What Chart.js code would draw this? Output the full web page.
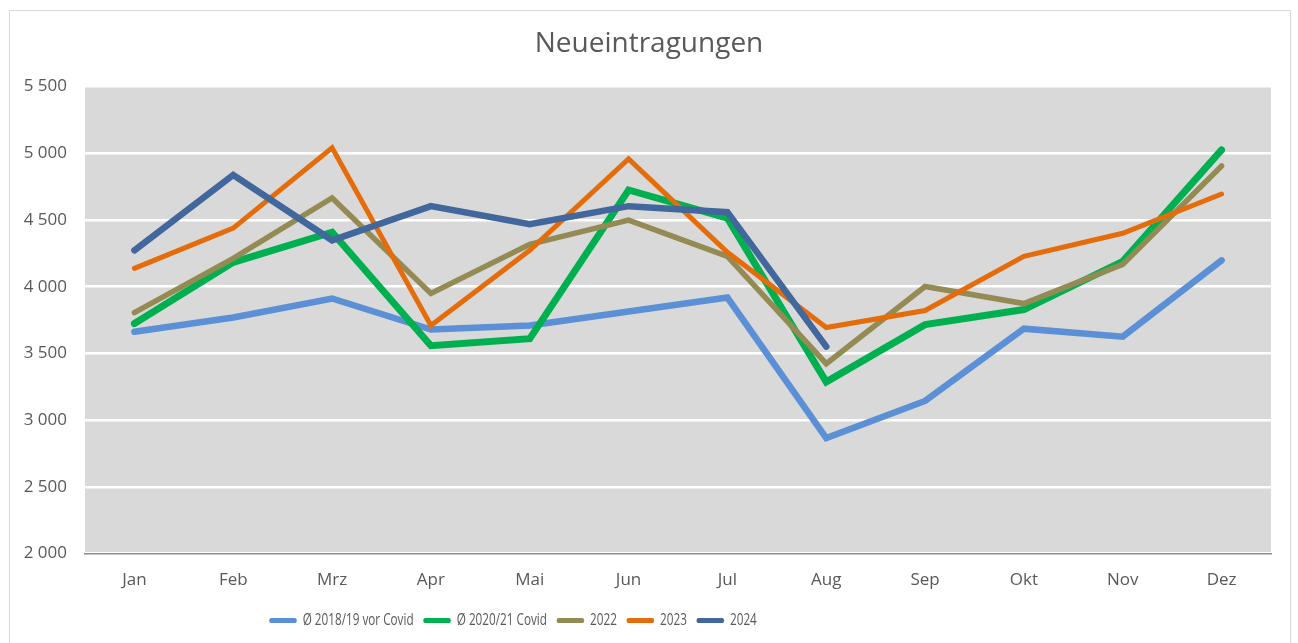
<!DOCTYPE html>
<html>
<head>
<meta charset="utf-8">
<script src="https://cdn.jsdelivr.net/npm/chart.js@4.4.1/dist/chart.umd.min.js"></script>
<style>
html,body{margin:0;padding:0;background:#fff;}
#frame{position:absolute;left:9px;top:10px;width:1282px;height:640px;border:1px solid #d9d9d9;box-sizing:border-box;}
#wrap{position:absolute;left:0;top:0;width:1298px;height:643px;}
</style>
</head>
<body>
<div id="frame"></div>
<div id="wrap"><canvas id="c" width="1298" height="643"></canvas></div>
<script>
const categories = ['Jan','Feb','Mrz','Apr','Mai','Jun','Jul','Aug','Sep','Okt','Nov','Dez'];
const seriesNames = ['Ø 2018/19 vor Covid','Ø 2020/21 Covid','2022','2023','2024'];
const avg1819 = [3663,3769,3912,3679,3709,3814,3919,2866,3144,3686,3626,4198];
const avg2021 = [3724,4183,4409,3558,3611,4725,4514,3287,3716,3829,4190,5026];
const y2022 = [3806,4213,4665,3950,4318,4499,4228,3423,4002,3874,4168,4905];
const y2023 = [4138,4439,5041,3709,4273,4958,4258,3694,3822,4228,4401,4695];
const y2024 = [4273,4838,4348,4604,4469,4604,4559,3551,null,null,null,null];
const yTicks = [2000,2500,3000,3500,4000,4500,5000,5500];
const colors = ['#5B8FD6','#00B050','#948A54','#E46C0A','#41679C'];
const lineWidths = [6.5,7,5.5,5,6.5];
const allSeries = [avg1819,avg2021,y2022,y2023,y2024];

const LEG_SCALE = 0.69;
const LEG_CENTER = 513;
const LEG_SHIFT_Y = -8;

const bgPlugin = {
  id:'plotBg',
  beforeDraw(chart){
    const {ctx, chartArea:a} = chart;
    ctx.save();
    ctx.fillStyle = '#D9D9D9';
    ctx.fillRect(a.left, a.top, a.right-a.left, a.bottom-a.top);
    ctx.restore();
  },
  afterLayout(chart){
    const lg = chart.legend;
    if (lg && !lg._wrapped) {
      const orig = lg.draw.bind(lg);
      lg.draw = function(){
        const ctx = chart.ctx;
        const mid = (lg.left + lg.right) / 2;
        ctx.save();
        ctx.translate(LEG_CENTER, LEG_SHIFT_Y);
        ctx.scale(LEG_SCALE, 1);
        ctx.translate(-mid, 0);
        orig();
        ctx.restore();
      };
      lg._wrapped = true;
    }
  }
};

const fmt = v => String(v).replace(/\B(?=(\d{3})+(?!\d))/g, ' ');

new Chart(document.getElementById('c'), {
  type:'line',
  data:{
    labels:categories,
    datasets: allSeries.map((d,i)=>({
      label:seriesNames[i],
      data:d,
      borderColor:colors[i],
      backgroundColor:colors[i],
      borderWidth:lineWidths[i],
      pointRadius:0,
      tension:0,
      borderCapStyle:'round',
      borderJoinStyle:'miter',
      spanGaps:false,
      order:5-i
    }))
  },
  plugins:[bgPlugin],
  options:{
    responsive:false,
    animation:false,
    layout:{padding:{left:0,right:0,top:0,bottom:7}},
    plugins:{
      title:{display:true,text:'Neueintragungen',color:'#595959',
        font:{family:'Open Sans',size:28,weight:'normal'},padding:{top:27,bottom:26}},
      legend:{position:'bottom',
        maxHeight:30,
        labels:{
          color:'#595959',
          font:{family:'Open Sans',size:17},
          boxWidth:40, boxHeight:5, padding:14,
          sort:(a,b)=>a.datasetIndex-b.datasetIndex,
          generateLabels(chart){
            return chart.data.datasets.map((ds,i)=>({
              text:ds.label, fillStyle:ds.borderColor, strokeStyle:ds.borderColor,
              lineWidth:0, borderRadius:2.5, datasetIndex:i, hidden:false, fontColor:'#595959'
            }));
          }
        }},
      tooltip:{enabled:false}
    },
    scales:{
      x:{
        offset:true,
        grid:{display:false, drawTicks:false, offset:true},
        border:{display:true,color:'#8C8C8C',width:1.5},
        ticks:{color:'#595959',font:{family:'Open Sans',size:17},padding:16}
      },
      y:{
        min:2000,max:5500,
        afterFit(s){ s.width = 85; },
        afterBuildTicks(s){ s.ticks = yTicks.map(v=>({value:v})); },
        grid:{color:'#FFFFFF',lineWidth:2.5,drawTicks:false},
        border:{display:false},
        ticks:{color:'#595959',font:{family:'Open Sans',size:17},padding:18,
          callback:v=>fmt(v)}
      },
      yr:{
        position:'right',
        afterFit(s){ s.width = 27; },
        grid:{display:false,drawTicks:false},
        border:{display:false},
        ticks:{display:false}
      }
    }
  }
});
</script>
</body>
</html>
